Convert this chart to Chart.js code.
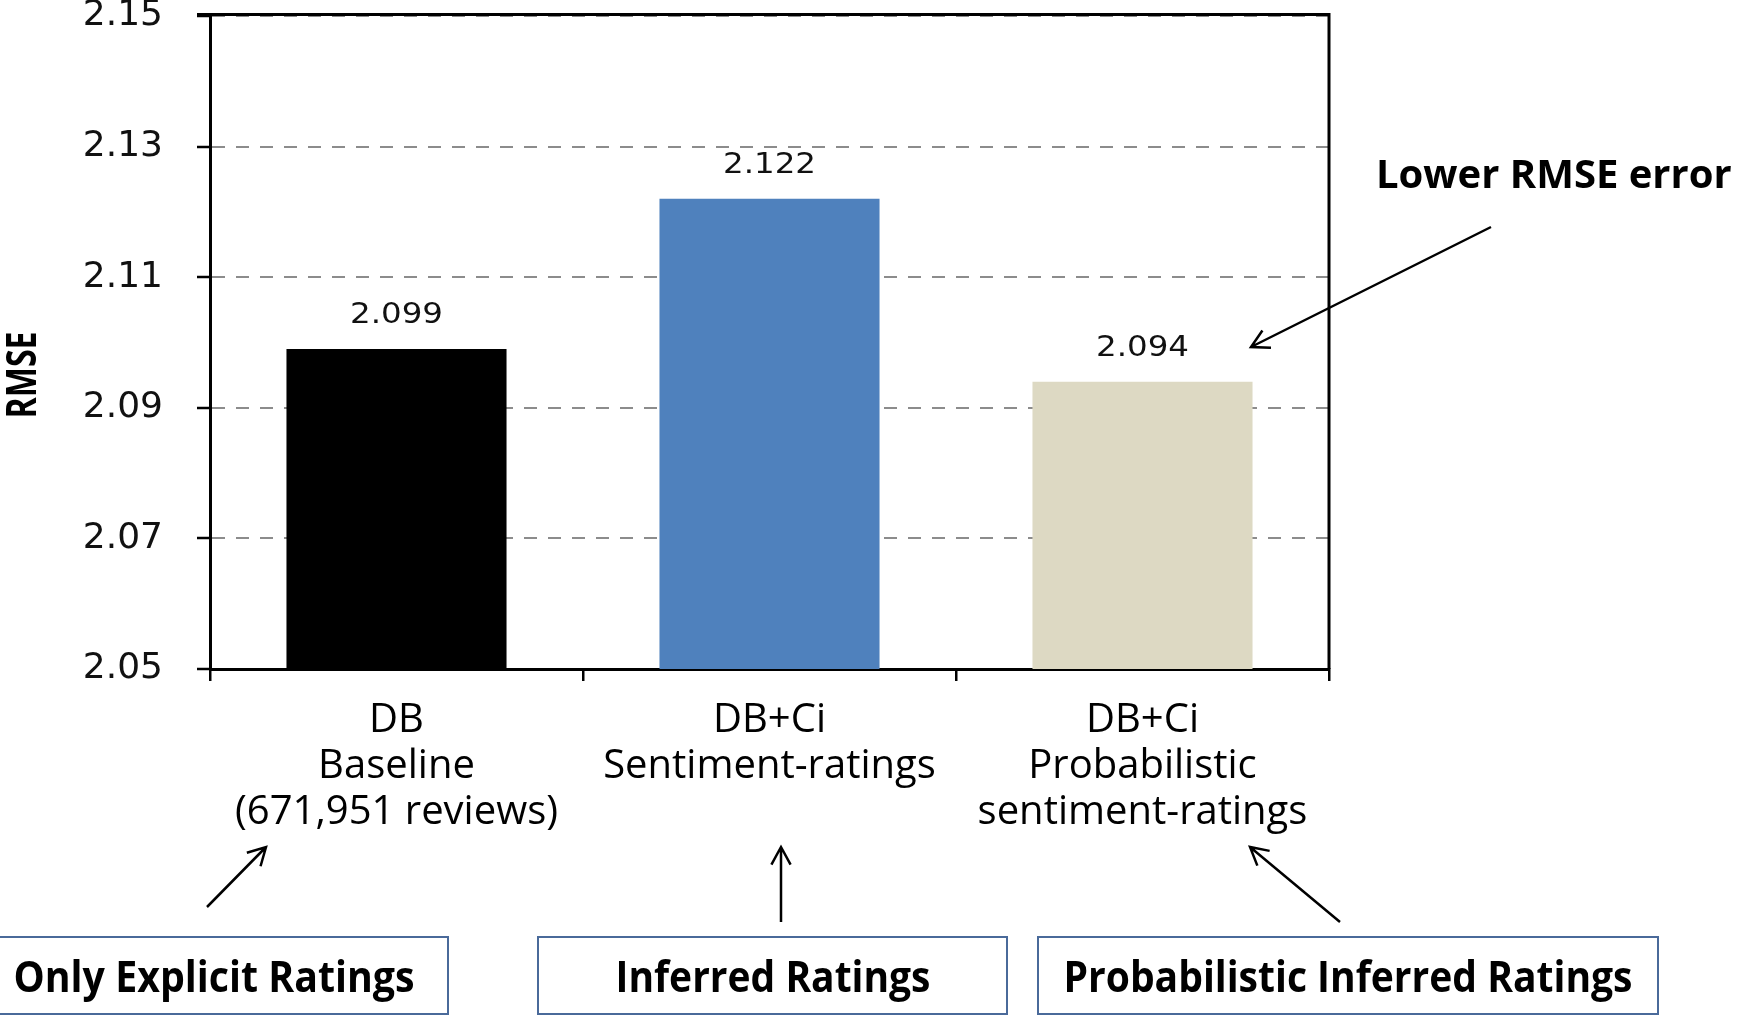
<!DOCTYPE html>
<html><head><meta charset="utf-8">
<script src="https://cdn.jsdelivr.net/npm/chart.js@4.4.1/dist/chart.umd.min.js"></script>
<style>html,body{margin:0;padding:0;background:#fff;overflow:hidden}canvas{display:block}</style>
</head><body>
<canvas id="c" width="1737" height="1015" style="width:1737px;height:1015px"></canvas>
<script>
// ---- data ----
const categories = [["DB", "Baseline", "(671,951 reviews)"], ["DB+Ci", "Sentiment-ratings"], ["DB+Ci", "Probabilistic", "sentiment-ratings"]];
const rmseValues = [2.099, 2.122, 2.094];
const valueLabels = ["2.099", "2.122", "2.094"];
const barColors = ["#000000", "#4f81bd", "#ddd9c3"];
const yTicks = [2.05, 2.07, 2.09, 2.11, 2.13, 2.15];
const yTitle = "RMSE";
const boxLabels = ["Only Explicit Ratings", "Inferred Ratings", "Probabilistic Inferred Ratings"];
const calloutText = "Lower RMSE error";

function arrow(ctx, x1, y1, x2, y2) {
  const a = Math.atan2(y2 - y1, x2 - x1), L = 20, s = 0.5;
  ctx.beginPath();
  ctx.moveTo(x1, y1); ctx.lineTo(x2, y2);
  ctx.moveTo(x2 - L * Math.cos(a - s), y2 - L * Math.sin(a - s));
  ctx.lineTo(x2, y2);
  ctx.lineTo(x2 - L * Math.cos(a + s), y2 - L * Math.sin(a + s));
  ctx.stroke();
}

const decor = {
  id: 'decor',
  afterDatasetsDraw(chart) {
    const ctx = chart.ctx;
    const meta = chart.getDatasetMeta(0);
    ctx.save();
    ctx.fillStyle = '#111';
    ctx.font = '29px "DejaVu Sans"';
    ctx.textAlign = 'center';
    ctx.textBaseline = 'alphabetic';
    meta.data.forEach((bar, i) => {
      ctx.save();
      ctx.translate(bar.x, bar.y - 26);
      ctx.scale(1.12, 1);
      ctx.fillText(valueLabels[i], 0, 0);
      ctx.restore();
    });
    ctx.restore();
  },
  afterDraw(chart) {
    const ctx = chart.ctx;
    const ca = chart.chartArea;
    ctx.save();
    // frame: top and right borders
    ctx.strokeStyle = '#000';
    ctx.lineWidth = 3;
    ctx.beginPath();
    ctx.moveTo(197, ca.top - 1.5); ctx.lineTo(ca.right + 1.5, ca.top - 1.5);
    ctx.moveTo(ca.right, ca.top - 3); ctx.lineTo(ca.right, ca.bottom);
    ctx.stroke();

    // y title
    ctx.fillStyle = '#000';
    ctx.font = 'bold 42px "Open Sans"';
    ctx.textAlign = 'center';
    ctx.textBaseline = 'middle';
    ctx.save();
    ctx.translate(24, 375);
    ctx.rotate(-Math.PI / 2);
    ctx.fillText(yTitle, 0, 0, 87);
    ctx.restore();

    // callout text
    ctx.font = 'bold 40px "Open Sans"';
    ctx.textAlign = 'left';
    ctx.textBaseline = 'alphabetic';
    ctx.fillText(calloutText, 1376, 188);

    // arrows
    ctx.lineWidth = 2.5;
    ctx.strokeStyle = '#000';
    arrow(ctx, 1491, 227, 1251, 347);
    arrow(ctx, 207, 907, 266, 847);
    arrow(ctx, 781, 922, 781, 847);
    arrow(ctx, 1340, 922, 1250, 847);

    // boxes
    const boxes = [[-4, 448], [538, 1007], [1038, 1658]];
    const textCenters = [214, 773, 1348];
    const textWidths = [401, 315, 569];
    ctx.strokeStyle = '#4a6a9a';
    ctx.lineWidth = 2;
    boxes.forEach((b, i) => {
      ctx.strokeRect(b[0], 937, b[1] - b[0], 77);
      ctx.font = 'bold 43px "Open Sans"';
      ctx.textAlign = 'center';
      ctx.fillStyle = '#000';
      ctx.fillText(boxLabels[i], textCenters[i], 992, textWidths[i]);
    });
    ctx.restore();
  }
};

new Chart(document.getElementById('c'), {
  type: 'bar',
  data: {
    labels: categories,
    datasets: [{
      data: rmseValues,
      backgroundColor: barColors,
      borderWidth: 0,
      barPercentage: 0.59,
      categoryPercentage: 1.0
    }]
  },
  options: {
    responsive: false,
    devicePixelRatio: 1,
    animation: false,
    layout: { padding: { left: 0, top: 16, right: 408, bottom: 0 } },
    plugins: { legend: { display: false }, tooltip: { enabled: false } },
    scales: {
      x: {
        afterFit: s => { s.height = 346; s.paddingLeft = 0; s.paddingRight = 0; },
        grid: { display: true, drawOnChartArea: false, drawTicks: true, tickLength: 12, offset: true, color: '#000', lineWidth: 2.5, tickColor: '#000', tickWidth: 2.5 },
        border: { display: true, color: '#000', width: 3 },
        ticks: { color: '#000', padding: 17, maxRotation: 0, autoSkip: false, font: { family: '"Open Sans"', size: 40, lineHeight: 46 / 40 } }
      },
      y: {
        min: 2.05, max: 2.15,
        afterFit: s => { s.width = 210; s.paddingTop = 0; s.paddingBottom = 0; },
        afterBuildTicks: s => { s.ticks = yTicks.map(v => ({ value: v })); },
        grid: { color: '#8c8c8c', lineWidth: 2, drawTicks: true, tickLength: 13, tickColor: '#000', tickWidth: 2.5, tickBorderDash: [] },
        border: { display: true, color: '#000', width: 3, dash: [13, 11] },
        ticks: { color: '#111', padding: 34, font: { family: '"DejaVu Sans"', size: 36 }, callback: v => Number(v).toFixed(2) }
      }
    }
  },
  plugins: [decor]
});
</script>
</body></html>
